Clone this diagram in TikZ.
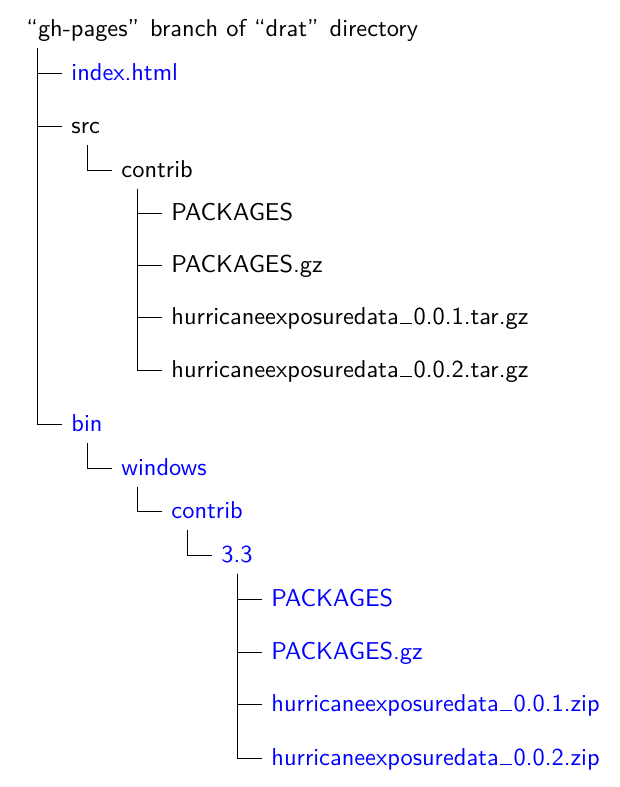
\documentclass[tikz,border=0pt]{standalone}
\newcommand\usc{\kern.06em\vbox{\hrule width.5em}\kern.05em}
\begin{document}
\begin{tikzpicture}[x=0.41pt,y=-0.41pt,
  item/.style={anchor=west, inner sep=0pt, text height=8pt, text depth=2.26pt, font=\sffamily},
  hl/.style={text=blue},
  link/.style={line width=0.4pt, shorten >=3.5pt}]
\useasboundingbox (0,0) rectangle (620,787);
\node[anchor=base west, inner sep=0pt, font=\sffamily] (root) at (26,36.5) {“gh-pages”\hspace{1.2pt} branch of “drat”\hspace{1.2pt} directory};
\coordinate (rv) at (37.5,48);
% level 1
\node[item,hl] (index) at (71,73) {index.html};
\node[item] (src) at (71,126) {src};
\node[item,hl] (bin) at (71,424) {bin};
% src branch
\node[item] (contribA) at (121,170) {contrib};
\node[item] (pkgA) at (171,213) {PACKAGES};
\node[item] (pkggzA) at (171,265) {PACKAGES.gz};
\node[item] (tarA) at (171,317) {hurricaneexposuredata\usc 0.0.1.tar.gz};
\node[item] (tarB) at (171,370) {hurricaneexposuredata\usc 0.0.2.tar.gz};
% bin branch
\node[item,hl] (windows) at (121,468) {windows};
\node[item,hl] (contribB) at (171,511) {contrib};
\node[item,hl] (ver) at (221,555) {3.3};
\node[item,hl] (pkgB) at (271,599) {PACKAGES};
\node[item,hl] (pkggzB) at (271,652) {PACKAGES.gz};
\node[item,hl] (zipA) at (271,704) {hurricaneexposuredata\usc 0.0.1.zip};
\node[item,hl] (zipB) at (271,758) {hurricaneexposuredata\usc 0.0.2.zip};
% connectors
\draw[link] (rv) |- (index.west);
\draw[link] (rv) |- (src.west);
\draw[link] (rv) |- (bin.west);
\draw[link] ([shift={(16.5,5.5)}]src.south west) |- (contribA.west);
\foreach \c in {pkgA,pkggzA,tarA,tarB}
  \draw[link] ([shift={(16.5,5.5)}]contribA.south west) |- (\c.west);
\draw[link] ([shift={(16.5,5.5)}]bin.south west) |- (windows.west);
\draw[link] ([shift={(16.5,5.5)}]windows.south west) |- (contribB.west);
\draw[link] ([shift={(16.5,5.5)}]contribB.south west) |- (ver.west);
\foreach \c in {pkgB,pkggzB,zipA,zipB}
  \draw[link] ([shift={(16.5,5.5)}]ver.south west) |- (\c.west);
\end{tikzpicture}
\end{document}
